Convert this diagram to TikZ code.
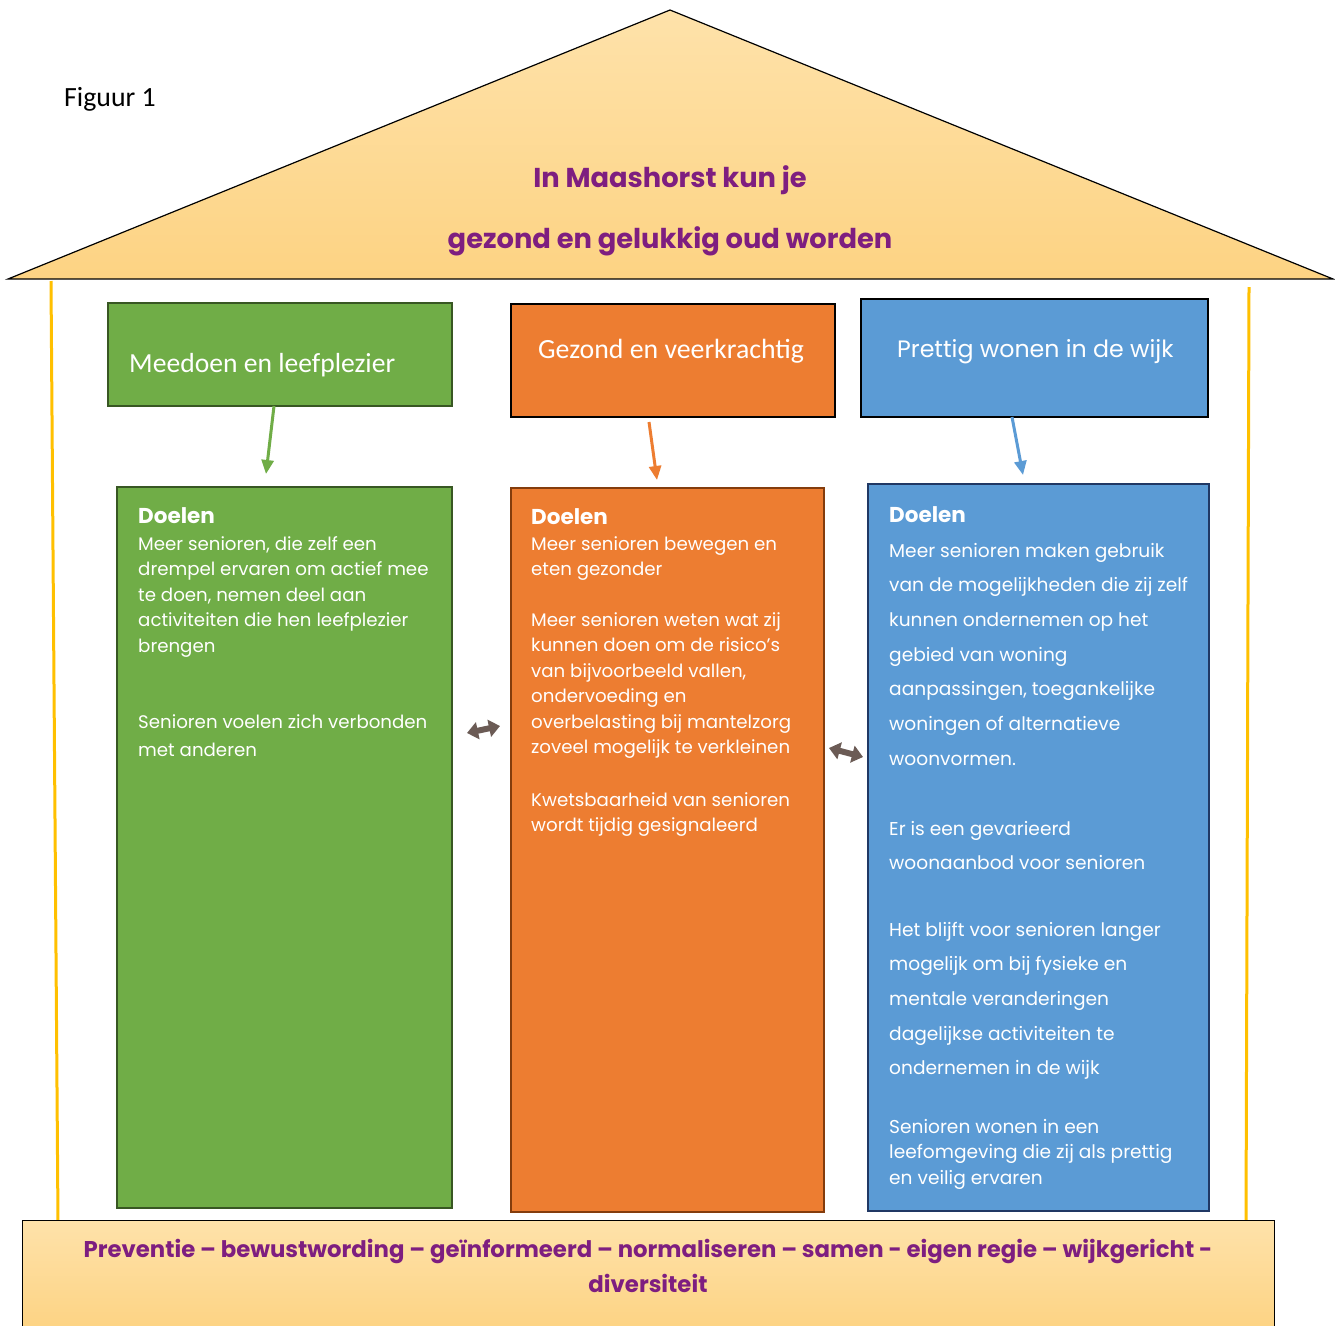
\documentclass[tikz,border=0pt]{standalone}
\usepackage{fontspec}
\setmainfont{Poppins}
\newfontfamily\carl{Carlito}
\usetikzlibrary{arrows.meta}
\definecolor{roofT}{HTML}{FEE2AA}
\definecolor{roofB}{HTML}{FDD383}
\definecolor{post}{HTML}{FFC000}
\definecolor{gfill}{HTML}{70AD47}
\definecolor{gline}{HTML}{385723}
\definecolor{ofill}{HTML}{ED7D31}
\definecolor{oline}{HTML}{843C0C}
\definecolor{bfill}{HTML}{5B9BD5}
\definecolor{bline}{HTML}{203864}
\definecolor{purp}{HTML}{7E1E80}
\definecolor{darr}{HTML}{6B5B55}
\begin{document}
\begin{tikzpicture}[x=1pt,y=-1pt,
  box/.style={draw,inner sep=0,outer sep=0},
  head/.style={inner sep=0,anchor=base west,text=white},
  body/.style={inner sep=0,anchor=base west,text=white,align=left,font=\fontsize{18.2}{25.5}\selectfont},
  bbody/.style={inner sep=0,anchor=base west,text=white,align=left,font=\fontsize{18.6}{34.7}\selectfont},
  doel/.style={inner sep=0,anchor=base west,text=white,font=\fontsize{21.5}{24}\selectfont\bfseries},
  title/.style={inner sep=0,anchor=base,text=purp,font=\fontsize{27.3}{30}\selectfont\bfseries},
  down/.style={line width=3pt,-{Triangle[length=14pt,width=12pt]}},
  twoway/.style={darr,line width=6pt,{Triangle[length=11pt,width=17pt]}-{Triangle[length=11pt,width=17pt]}}
]
\useasboundingbox (0,0) rectangle (1335,1325);
\fill[white] (0,0) rectangle (1335,1325);
% roof
\path[draw=black,line width=1.2pt,top color=roofT,bottom color=roofB] (8,279) -- (670,10) -- (1333,279) -- cycle;
\node[title] (t1) at (670,187) {In Maashorst kun je};
\node[title] (t2) at (670,248) {gezond en gelukkig oud worden};
\node[inner sep=0,anchor=base west,font=\carl\fontsize{27.8}{30}\selectfont] (fig) at (64,106) {Figuur 1};
% posts
\draw[post,line width=3pt] (51,281) -- (58,1222);
\draw[post,line width=3pt] (1249,287) -- (1246,1222);
% header boxes
\node[box,draw=gline,line width=2.5pt,fill=gfill,minimum width=344pt,minimum height=103pt] (gh) at (280,354.5) {};
\node[box,draw=black,line width=2pt,fill=ofill,minimum width=324pt,minimum height=113pt] (oh) at (673,360.5) {};
\node[box,draw=black,line width=2pt,fill=bfill,minimum width=347pt,minimum height=118pt] (bh) at (1034.5,358) {};
\node[head,font=\carl\fontsize{27.6}{30}\selectfont] (ght) at (129,372) {Meedoen en leefplezier};
\node[head,font=\carl\fontsize{27.8}{30}\selectfont] (oht) at (538,358) {Gezond en veerkrachtig};
\node[head,font=\fontsize{23.7}{26}\selectfont] (bht) at (897,357) {Prettig wonen in de wijk};
% body boxes
\node[box,draw=gline,line width=2.5pt,fill=gfill,minimum width=335pt,minimum height=721pt] (gb) at (284.5,847.5) {};
\node[box,draw=oline,line width=2.5pt,fill=ofill,minimum width=313pt,minimum height=724pt] (ob) at (667.5,850) {};
\node[box,draw=bline,line width=2.5pt,fill=bfill,minimum width=341pt,minimum height=727pt] (bb) at (1038.5,847.5) {};
% arrows header -> body
\draw[down,gfill] ([xshift=-6pt]gh.south) -- ([shift={(-18.5,-13)}]gb.north);
\draw[down,ofill] ([shift={(-24,5)}]oh.south) -- ([shift={(-10.5,-8)}]ob.north);
\draw[down,bfill] ([xshift=-22.5pt]bh.south) -- ([shift={(-15.5,-9)}]bb.north);
% two-way arrows
\draw[twoway] ([shift={(15,-114.5)}]gb.east) -- ([shift={(-11,-124)}]ob.west);
\draw[twoway] ([shift={(5,-102)}]ob.east) -- ([shift={(-5,-90.5)}]bb.west);
% green text (base = last line)
\node[doel] (gd) at (138,523) {Doelen};
\node[body] (g1) at (138,652) {Meer senioren, die zelf een\\drempel ervaren om actief mee\\te doen, nemen deel aan\\activiteiten die hen leefplezier\\brengen};
\node[body,font=\fontsize{18.2}{28}\selectfont] (g2) at (138,756) {Senioren voelen zich verbonden\\met anderen};
% orange text
\node[doel] (od) at (531,524) {Doelen};
\node[body] (o1) at (531,575.5) {Meer senioren bewegen en\\eten gezonder};
\node[body] (o2) at (531,753.5) {Meer senioren weten wat zij\\kunnen doen om de risico’s\\van bijvoorbeeld vallen,\\ondervoeding en\\overbelasting bij mantelzorg\\zoveel mogelijk te verkleinen};
\node[body] (o3) at (531,831.5) {Kwetsbaarheid van senioren\\wordt tijdig gesignaleerd};
% blue text
\node[doel] (bd) at (889,522) {Doelen};
\node[bbody] (b1) at (889,765.2) {Meer senioren maken gebruik\\van de mogelijkheden die zij zelf\\kunnen ondernemen op het\\gebied van woning\\aanpassingen, toegankelijke\\woningen of alternatieve\\woonvormen.};
\node[bbody] (b2) at (889,869.7) {Er is een gevarieerd\\woonaanbod voor senioren};
\node[bbody] (b3) at (889,1074.8) {Het blijft voor senioren langer\\mogelijk om bij fysieke en\\mentale veranderingen\\dagelijkse activiteiten te\\ondernemen in de wijk};
\node[bbody,font=\fontsize{18.6}{25.5}\selectfont] (b4) at (889,1184) {Senioren wonen in een\\leefomgeving die zij als prettig\\en veilig ervaren};
% foundation
\path[draw=black,line width=1pt,top color=roofT,bottom color=roofB] (22,1220) rectangle (1274,1330);
\node[inner sep=0,anchor=base,text=purp,font=\fontsize{22.8}{35}\selectfont\bfseries,align=center] (base) at (648,1292) {Preventie – bewustwording – geïnformeerd – normaliseren – samen - eigen regie – wijkgericht -\\diversiteit};
\end{tikzpicture}
\end{document}
